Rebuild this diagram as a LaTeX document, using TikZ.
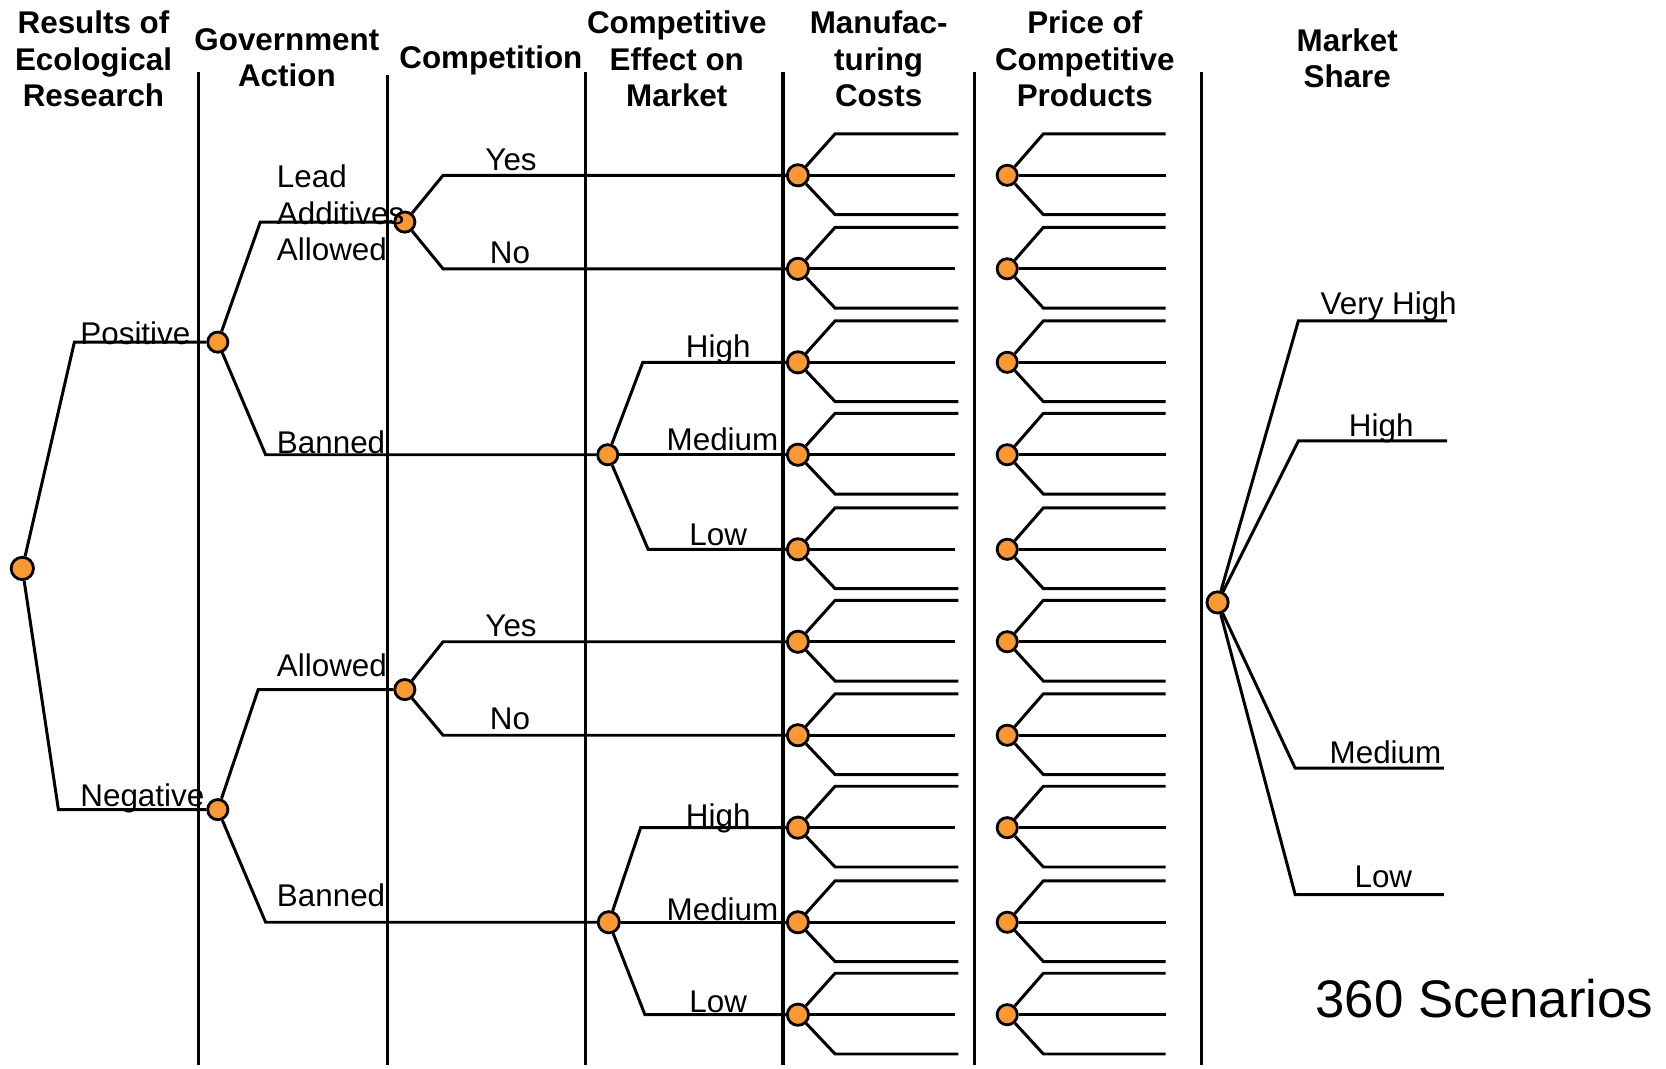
\documentclass[tikz,border=0pt]{standalone}
\usepackage{fontspec}
\setmainfont{Liberation Sans}
\definecolor{dotorange}{RGB}{250,153,51}
\begin{document}
\begin{tikzpicture}[x=0.01cm,y=-0.01cm,
  dot/.style={circle,draw=black,fill=dotorange,line width=0.75pt,minimum size=0.19cm,inner sep=0pt},
  branch/.style={line width=0.8pt,black},
  divider/.style={line width=0.85pt,black},
  hdr/.style={font=\fontsize{8.4}{9.8}\selectfont\bfseries,align=center,anchor=north,inner sep=0pt},
  lbl/.style={font=\fontsize{8.4}{9.8}\selectfont,anchor=base,inner sep=0pt},
  lblw/.style={lbl,anchor=base west}]
\useasboundingbox (0,0) rectangle (1568,1006);

% column dividers
\foreach \x/\yt [count=\i] in {187/68,365/71,551/68,737/68,917/68,1131/68}{
  \coordinate (dt\i) at (\x,\yt);
  \coordinate (db\i) at (\x,1002);
  \draw[divider] (dt\i) -- (db\i);
}

% headers
\node[hdr] (h1) at (88,9.5) {Results of\\Ecological\\Research};
\node[hdr] (h2) at (270,26) {Government\\Action};
\node[hdr] (h3) at (462,42) {Competition};
\node[hdr] (h4) at (637,9.5) {Competitive\\Effect on\\Market};
\node[hdr] (h5) at (827,9.5) {Manufac-\\turing\\Costs};
\node[hdr] (h6) at (1021,9.5) {Price of\\Competitive\\Products};
\node[hdr] (h7) at (1268,26) {Market\\Share};

% decision nodes
\node[dot,minimum size=0.21cm] (R) at (21,535) {};
\node[dot] (P) at (205,322) {};
\node[dot] (N) at (205,762) {};
\node[dot] (C1) at (381,209) {};
\node[dot] (E1) at (572,428) {};
\node[dot] (C2) at (381,649) {};
\node[dot,minimum size=0.2cm] (E2) at (573,868) {};

% manufacturing-cost and price nodes with their three branches
\foreach \y [count=\i] in {165,253,341,428,517,604,692,779,868,955}{
  \node[dot,minimum size=0.2cm] (M\i) at (751,\y) {};
  \node[dot] (Q\i) at (948,\y) {};
  \coordinate (Mu\i) at (902,\y-39);
  \coordinate (Mm\i) at (899,\y);
  \coordinate (Md\i) at (902,\y+37);
  \coordinate (Qu\i) at (1097,\y-39);
  \coordinate (Qm\i) at (1097,\y);
  \coordinate (Qd\i) at (1097,\y+37);
  \draw[branch] (M\i) -- (786,\y-39) -- (Mu\i);
  \draw[branch] (M\i) -- (Mm\i);
  \draw[branch] (M\i) -- (786,\y+37) -- (Md\i);
  \draw[branch] (Q\i) -- (982,\y-39) -- (Qu\i);
  \draw[branch] (Q\i) -- (Qm\i);
  \draw[branch] (Q\i) -- (982,\y+37) -- (Qd\i);
}

% tree connectors
\draw[branch] (R) -- (70,322) -- (P);
\draw[branch] (R) -- (55,762) -- (N);
\draw[branch] (P) -- (245,209) -- (C1);
\draw[branch] (P) -- (250,428) -- (E1);
\draw[branch] (N) -- (243,649) -- (C2);
\draw[branch] (N) -- (250,868) -- (E2);
\draw[branch] (C1) -- (417,165) -- (M1);
\draw[branch] (C1) -- (417,253) -- (M2);
\draw[branch] (E1) -- (605,341) -- (M3);
\draw[branch] (E1) -- (M4);
\draw[branch] (E1) -- (610,517) -- (M5);
\draw[branch] (C2) -- (417,604) -- (M6);
\draw[branch] (C2) -- (417,692) -- (M7);
\draw[branch] (E2) -- (603,779) -- (M8);
\draw[branch] (E2) -- (M9);
\draw[branch] (E2) -- (607,955) -- (M10);

% branch labels
\node[lblw] (lPos) at (75,324) {Positive};
\node[lblw] (lNeg) at (75,759) {Negative};
\node[lbl,anchor=north west,align=left] (lLead) at (260,154.5) {Lead\\Additives\\Allowed};
\node[lblw] (lBan1) at (260,427) {Banned};
\node[lblw] (lAll) at (260,637) {Allowed};
\node[lblw] (lBan2) at (260,853) {Banned};
\node[lbl] (lYes1) at (481,160) {Yes};
\node[lbl] (lNo1) at (480,248) {No};
\node[lbl] (lHi1) at (676,336) {High};
\node[lbl] (lMed1) at (680,424) {Medium};
\node[lbl] (lLo1) at (676,513) {Low};
\node[lbl] (lYes2) at (481,599) {Yes};
\node[lbl] (lNo2) at (480,687) {No};
\node[lbl] (lHi2) at (676,778) {High};
\node[lbl] (lMed2) at (680,866) {Medium};
\node[lbl] (lLo2) at (676,953) {Low};

% market share
\node[dot,minimum size=0.2cm] (MS) at (1146,567) {};
\coordinate (S1) at (1362,302);
\coordinate (S2) at (1362,415);
\coordinate (S3) at (1359,723);
\coordinate (S4) at (1359,842);
\draw[branch] (MS) -- (1222,302) -- (S1);
\draw[branch] (MS) -- (1222,415) -- (S2);
\draw[branch] (MS) -- (1219,723) -- (S3);
\draw[branch] (MS) -- (1219,842) -- (S4);
\node[lbl] (lVH) at (1307,296) {Very High};
\node[lbl] (lH) at (1300,411) {High};
\node[lbl] (lM) at (1304,719) {Medium};
\node[lbl] (lL) at (1302,835) {Low};

\node[font=\fontsize{14.15}{17}\selectfont,anchor=base,inner sep=0pt] (scen) at (1397,958) {360 Scenarios};
\end{tikzpicture}
\end{document}
